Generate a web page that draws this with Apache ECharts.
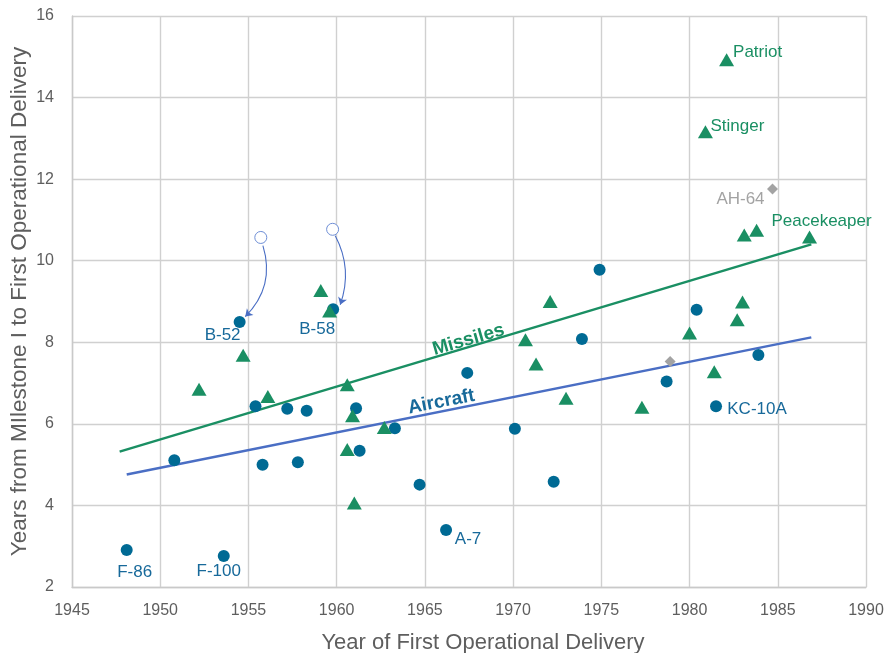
<!DOCTYPE html>
<html>
<head>
<meta charset="utf-8">
<script src="https://cdn.jsdelivr.net/npm/echarts@6/dist/echarts.min.js"></script>
<style>
  html, body { margin: 0; padding: 0; background: #fff; overflow: hidden; }
  #chart { width: 888px; height: 653px; }
</style>
</head>
<body>
<div id="chart"></div>
<script>
// Aircraft programs: year of first operational delivery vs. years from Milestone I
const aircraftYears  = [1948.1, 1950.8, 1953.6, 1954.5, 1955.4, 1955.8, 1957.2, 1957.8, 1958.3, 1959.8, 1961.1, 1961.3, 1963.3, 1964.7, 1966.2, 1967.4, 1970.1, 1972.3, 1973.9, 1974.9, 1978.7, 1980.4, 1981.5, 1983.9];
const aircraftValues = [2.91, 5.11, 2.76, 8.50, 6.43, 5.00, 6.37, 5.06, 6.32, 8.81, 6.38, 5.34, 5.89, 4.51, 3.40, 7.25, 5.88, 4.58, 8.08, 9.78, 7.04, 8.80, 6.43, 7.69];
const aircraftNames  = ['F-86', '', 'F-100', 'B-52', '', '', '', '', '', 'B-58', '', '', '', '', 'A-7', '', '', '', '', '', '', '', 'KC-10A', ''];

// Missile programs
const missileYears  = [1952.2, 1954.7, 1956.1, 1959.1, 1959.6, 1960.6, 1960.9, 1960.6, 1961.0, 1962.7, 1970.7, 1971.3, 1972.1, 1973.0, 1977.3, 1980.0, 1981.4, 1982.7, 1983.0, 1982.1, 1980.9, 1983.1, 1983.8, 1986.8];
const missileValues = [6.85, 7.68, 6.67, 9.27, 8.77, 6.96, 6.20, 5.37, 4.06, 5.91, 8.06, 7.47, 9.00, 6.63, 6.41, 8.23, 7.28, 8.55, 8.99, 14.93, 13.16, 10.63, 10.75, 10.58];
const missileNames  = ['', '', '', '', '', '', '', '', '', '', '', '', '', '', '', '', '', '', '', 'Patriot', 'Stinger', '', '', 'Peacekeaper'];

// Other programs (helicopters)
const otherYears  = [1978.9, 1984.7];
const otherValues = [7.53, 11.76];
const otherNames  = ['', 'AH-64'];

// Earlier estimates for B-52 and B-58, with arrows to the actual values
const earlierYears  = [1955.7, 1959.77];
const earlierValues = [10.57, 10.77];
const arrowFrom = [[1955.82, 10.37], [1959.92, 10.61]];
const arrowTo   = [[1954.82, 8.63], [1960.2, 8.92]];

// Linear trend lines
const missileTrendYears   = [1947.7, 1986.9];
const missileTrendValues  = [5.32, 10.40];
const aircraftTrendYears  = [1948.1, 1986.9];
const aircraftTrendValues = [4.76, 8.12];

// Axis ticks
const xTicks = { min: 1945, max: 1990, step: 5 };
const yTicks = { min: 2, max: 16, step: 2 };

const FONT = "'Liberation Sans', Arial, Helvetica, sans-serif";
const BLUE_DOT = '#006a94';
const BLUE_TEXT = '#17699a';
const GREEN = '#1a8f63';
const LINE_BLUE = '#4a6ec4';
const GRAY = '#a3a3a3';

// label offsets (pixels from the marker centre)
const labelOffsets = {
  'F-86': [8, 22], 'F-100': [-5, 15], 'B-52': [-17, 13], 'B-58': [-16, 20],
  'A-7': [22, 9], 'KC-10A': [41, 3],
  'Patriot': [31, -7], 'Stinger': [32, -6], 'Peacekeaper': [12, -16],
  'AH-64': [-32, 10]
};

function points(xs, ys, names, color) {
  return xs.map((x, i) => {
    const item = { value: [x, ys[i]], name: names ? names[i] : '' };
    if (names && names[i]) {
      item.label = {
        show: true, position: 'inside', formatter: '{b}',
        offset: labelOffsets[names[i]], color: color,
        fontSize: 17, fontFamily: FONT
      };
    }
    return item;
  });
}

function pairs(xs, ys) { return xs.map((x, i) => [x, ys[i]]); }

const chart = echarts.init(document.getElementById('chart'), null, { renderer: 'canvas' });

const axisLabelStyle = { color: '#5e5e5e', fontSize: 16, fontFamily: FONT };
const gridLine = { show: true, lineStyle: { color: '#d0d0d0', width: 1.4 } };

chart.setOption({
  animation: false,
  backgroundColor: '#ffffff',
  grid: { left: 72, right: 22, top: 16, bottom: 66, containLabel: false, outerBoundsMode: 'none' },
  xAxis: {
    type: 'value', min: xTicks.min, max: xTicks.max, interval: xTicks.step,
    axisLine: { show: true, lineStyle: { color: '#c9c9c9', width: 1.4 } },
    axisTick: { show: false },
    splitLine: gridLine,
    axisLabel: Object.assign({ margin: 16, formatter: v => String(v) }, axisLabelStyle),
    name: 'Year of First Operational Delivery',
    nameLocation: 'middle', nameGap: 45, nameMoveOverlap: false,
    nameTextStyle: { color: '#5e5e5e', fontSize: 22, fontFamily: FONT, padding: [0, 0, 0, 28] }
  },
  yAxis: {
    type: 'value', min: yTicks.min, max: yTicks.max, interval: yTicks.step,
    axisLine: { show: true, lineStyle: { color: '#c9c9c9', width: 1.4 } },
    axisTick: { show: false },
    splitLine: gridLine,
    axisLabel: Object.assign({ margin: 18, formatter: v => String(v) }, axisLabelStyle),
    name: 'Years from MIlestone I to First Operational Delivery',
    nameLocation: 'middle', nameGap: 41, nameMoveOverlap: false,
    nameTextStyle: { color: '#5e5e5e', fontSize: 22.5, fontFamily: FONT }
  },
  series: [
    {
      type: 'line', data: pairs(missileTrendYears, missileTrendValues),
      symbol: 'none', silent: true, z: 1,
      lineStyle: { color: GREEN, width: 2.5 }
    },
    {
      type: 'line', data: pairs(aircraftTrendYears, aircraftTrendValues),
      symbol: 'none', silent: true, z: 1,
      lineStyle: { color: LINE_BLUE, width: 2.5 }
    },
    {
      type: 'scatter', name: 'Aircraft', symbol: 'circle', symbolSize: 12, z: 3,
      itemStyle: { color: BLUE_DOT, opacity: 1 },
      data: points(aircraftYears, aircraftValues, aircraftNames, BLUE_TEXT)
    },
    {
      type: 'scatter', name: 'Missiles', symbol: 'triangle', symbolSize: [15, 13], z: 4,
      itemStyle: { color: GREEN, opacity: 1 },
      data: points(missileYears, missileValues, missileNames, GREEN)
    },
    {
      type: 'scatter', name: 'Other', symbol: 'diamond', symbolSize: 11, z: 3,
      itemStyle: { color: GRAY, opacity: 1 },
      data: points(otherYears, otherValues, otherNames, GRAY)
    },
    {
      type: 'scatter', symbol: 'circle', symbolSize: 12, z: 3,
      itemStyle: { color: '#ffffff', borderColor: '#6f8fd6', borderWidth: 1, opacity: 1 },
      data: pairs(earlierYears, earlierValues)
    },
    {
      type: 'lines', coordinateSystem: 'cartesian2d', z: 5,
      symbol: ['none', 'arrow'], symbolSize: 7,
      lineStyle: { color: LINE_BLUE, width: 1.1, opacity: 1 },
      data: [
        { coords: [arrowFrom[0], arrowTo[0]], lineStyle: { curveness: 0.3 } },
        { coords: [arrowFrom[1], arrowTo[1]], lineStyle: { curveness: 0.22 } }
      ]
    },
    {
      // trend line captions, set along each line
      type: 'scatter', symbolSize: 0, silent: true, z: 6,
      itemStyle: { opacity: 1 },
      data: [
        { value: [1967.47, 8.06], label: { show: true, position: 'inside', formatter: 'Missiles', rotate: 16, color: GREEN, fontSize: 19, fontWeight: 'bold', fontFamily: FONT } },
        { value: [1965.93, 6.54], label: { show: true, position: 'inside', formatter: 'Aircraft', rotate: 11, color: BLUE_TEXT, fontSize: 19, fontWeight: 'bold', fontFamily: FONT } }
      ]
    }
  ]
});
</script>
</body>
</html>
